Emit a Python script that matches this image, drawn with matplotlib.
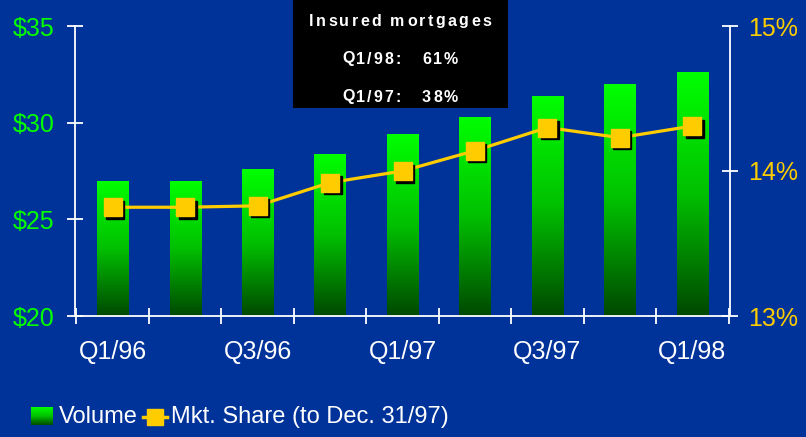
import numpy as np
import matplotlib
matplotlib.use("Agg")
import matplotlib.pyplot as plt
from matplotlib.colors import LinearSegmentedColormap
from matplotlib.patches import Rectangle
from matplotlib.transforms import offset_copy

categories = ["Q1/96", "Q2/96", "Q3/96", "Q4/96", "Q1/97", "Q2/97", "Q3/97", "Q4/97", "Q1/98"]
tick_labels = ["Q1/96", "", "Q3/96", "", "Q1/97", "", "Q3/97", "", "Q1/98"]
volume = [27.0, 27.0, 27.6, 28.4, 29.4, 30.3, 31.4, 32.0, 32.6]
mkt_share = [13.75, 13.75, 13.76, 13.92, 14.00, 14.14, 14.30, 14.23, 14.31]
left_ticks = [20, 25, 30, 35]
right_ticks = [13, 14, 15]

BG = "#003399"
GREEN_TXT = "#00ff00"
YELLOW = "#ffcc00"
FONT = ["Liberation Sans", "DejaVu Sans"]
plt.rcParams['font.family'] = FONT

fig = plt.figure(figsize=(8.06, 4.37), dpi=100, facecolor=BG)
ax = fig.add_axes([75/806, 1-316/437, (730-75)/806, (316-26)/437])
ax.set_facecolor(BG)
ax.patch.set_alpha(0)

x = np.arange(len(categories))
cmap = LinearSegmentedColormap.from_list("g", ["#004800", "#00c000", "#00ff00"])
grad = np.linspace(0, 1, 256).reshape(-1, 1)
width = 0.43
for xi, v in zip(x, volume):
    rect = Rectangle((xi - width/2, 20), width, v - 20, facecolor="none", edgecolor="none")
    ax.add_patch(rect)
    im = ax.imshow(grad, cmap=cmap, origin="lower", aspect="auto",
                   extent=(xi - width/2, xi + width/2, 20, v), zorder=2)
    im.set_clip_path(rect)
ax.set_xlim(-0.52, 8.52)
ax.set_ylim(20, 35)

for s in ["top", "right"]:
    ax.spines[s].set_visible(False)
for s in ["left", "bottom"]:
    ax.spines[s].set_color("white")
    ax.spines[s].set_linewidth(1.3)
ax.set_yticks(left_ticks)
ax.set_yticklabels([f"${t}" for t in left_ticks], color=GREEN_TXT, fontsize=18)
ax.tick_params(axis="y", direction="inout", length=12, width=1.3, color="white", pad=9)
minor = np.arange(-0.5, 9, 1.0)
ax.set_xticks(minor, minor=True)
ax.set_xticks(x)
ax.set_xticklabels(tick_labels, color="white", fontsize=18)
ax.tick_params(axis="x", which="major", length=0, pad=17)
ax.tick_params(axis="x", which="minor", direction="inout", length=11, width=1.3, color="white")

ax2 = ax.twinx()
ax2.set_ylim(13, 15)
ax2.patch.set_alpha(0)
for s in ["top", "left", "bottom"]:
    ax2.spines[s].set_visible(False)
ax2.spines["right"].set_color("white")
ax2.spines["right"].set_linewidth(1.3)
ax2.set_yticks(right_ticks)
ax2.set_yticklabels([f"{t}%" for t in right_ticks], color=YELLOW, fontsize=18)
ax2.tick_params(axis="y", direction="inout", length=12, width=1.3, color="white", pad=7)
ax2.plot(x, mkt_share, color=YELLOW, lw=2.3, zorder=4)
shadow_tr = offset_copy(ax2.transData, fig=fig, x=2.5, y=-2.5, units="dots")
ax2.plot(x, mkt_share, linestyle="none", marker="s", markersize=12.5,
         color="black", transform=shadow_tr, zorder=5)
ax2.plot(x, mkt_share, linestyle="none", marker="s", markersize=12.5,
         markerfacecolor=YELLOW, markeredgecolor=YELLOW, zorder=6)

# Text box
fig.patches.append(Rectangle((293/806, 1-108/437), (508-293)/806, 108/437,
                             transform=fig.transFigure, facecolor="black", edgecolor="none", zorder=10))
renderer = fig.canvas.get_renderer()

def tracked(text, x0, x1, ypix, size):
    ts = []
    widths = []
    for ch in text:
        t = fig.text(0, 0, ch, color="white", fontsize=size, fontweight="bold",
                     ha="left", va="center", zorder=11)
        if ch == " ":
            w = size * 0.278 * 100 / 72
        else:
            w = t.get_window_extent(renderer).width
        ts.append(t)
        widths.append(w)
    total = sum(widths)
    gap = (x1 - x0 - total) / max(len(text) - 1, 1)
    cx = x0
    for t, w in zip(ts, widths):
        t.set_position((cx / 806, 1 - ypix / 437))
        cx += w + gap

tracked("Insured mortgages", 309, 491, 21, 11.5)
tracked("Q1/98:   61%", 342, 458, 59, 11.5)
tracked("Q1/97:   38%", 342, 458, 97, 11.5)

# Legend
lax = fig.add_axes([0, 0, 1, 1], facecolor="none")
lax.imshow(grad, cmap=cmap, origin="lower", aspect="auto", extent=(31, 53, 425, 407))
lax.set_xlim(0, 806)
lax.set_ylim(437, 0)
lax.axis("off")
lax.text(59, 417, "Volume", color="white", fontsize=17, va="center", ha="left")
lax.plot([143, 167], [417, 417], color=YELLOW, lw=2.5)
lax.plot([155], [417], marker="s", markersize=11, color=YELLOW)
lax.text(171, 417, "Mkt. Share (to Dec. 31/97)", color="white", fontsize=17, va="center", ha="left")

fig.savefig("out.png", dpi=100, facecolor=BG)
